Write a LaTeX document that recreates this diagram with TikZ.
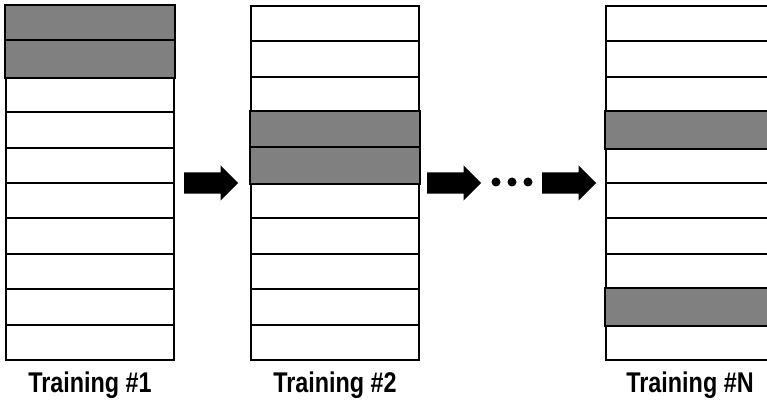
\documentclass[tikz,border=0pt]{standalone}
\usepackage{fontspec}
\newfontfamily\labelfont{Liberation Sans}[FakeStretch=0.82]
\usetikzlibrary{shapes.arrows}

\definecolor{cellgray}{HTML}{808080}
\tikzstyle{cell} = [rectangle, draw, line width=2pt, minimum width=168pt, minimum height=35.4pt, inner sep=0pt, anchor=north west]
\tikzstyle{shade} = [fill=cellgray, draw, line width=2pt]
\tikzstyle{bigarrow} = [single arrow, fill=black, anchor=tail, inner xsep=0pt, inner ysep=10.5pt, minimum height=54pt, minimum width=35pt, single arrow head extend=7pt]
\tikzstyle{dot} = [circle, fill, minimum width=9pt, inner sep=0pt]
\tikzstyle{trainlabel} = [font=\labelfont\bfseries\fontsize{28.5}{30}\selectfont, anchor=base, inner sep=0pt]

\begin{document}
\begin{tikzpicture}[x=1pt,y=-1pt]
\useasboundingbox (0,0) rectangle (767,403);
% ten folds per training round
\foreach \col/\x in {1/5,2/250,3/605}
  \foreach \row in {1,...,10}
    \node[cell] (c\col-\row) at (\x,{5+(\row-1)*35.4}) {};
% validation folds
\foreach \c in {c1-1,c1-2,c2-4,c2-5,c3-4,c3-9}
  \draw[shade] (\c.north west) rectangle (\c.south east);

\node[bigarrow] (arr1) at (184,183) {};
\node[bigarrow] (arr2) at (427,183) {};
\node[bigarrow] (arr3) at (542,183) {};
\node[dot] (d1) at (496,182) {};
\node[dot] (d2) at (512,182) {};
\node[dot] (d3) at (528,182) {};

\node[trainlabel] (lab1) at (c1-10.south |- 0,392) {Training \#1};
\node[trainlabel] (lab2) at (c2-10.south |- 0,392) {Training \#2};
\node[trainlabel] (lab3) at (c3-10.south |- 0,392) {Training \#N};
\end{tikzpicture}
\end{document}
